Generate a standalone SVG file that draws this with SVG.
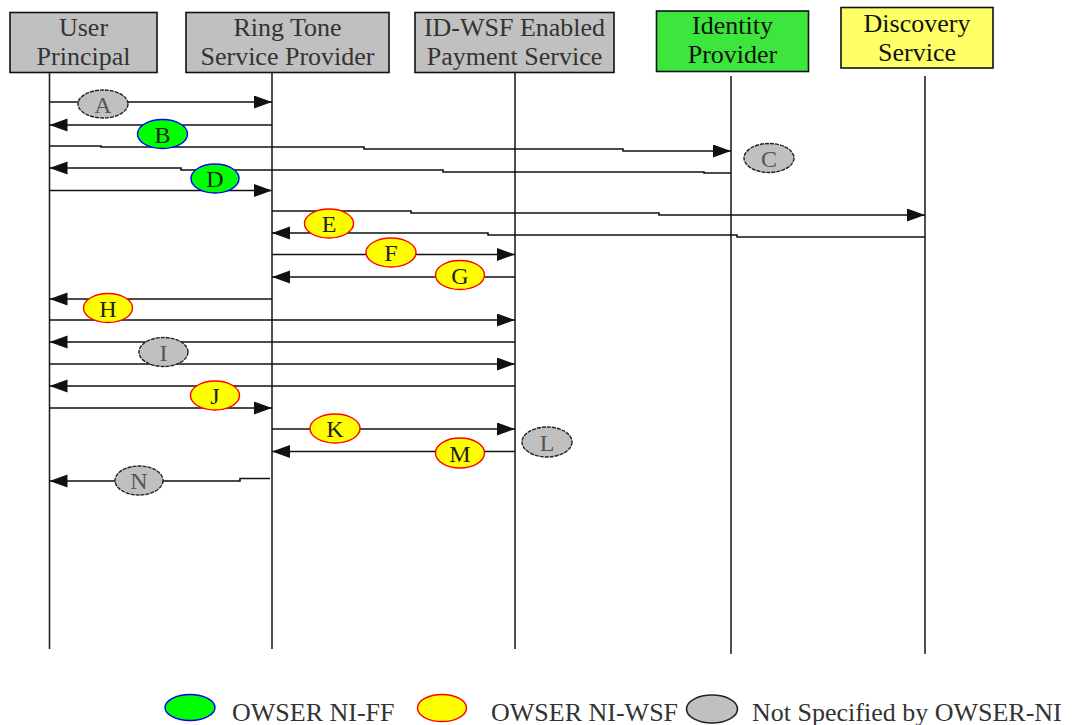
<svg xmlns="http://www.w3.org/2000/svg" width="1073" height="725" viewBox="0 0 1073 725">
<style>
.box{stroke:#111;stroke-width:1.6}
.grey{fill:#c0c0c0}
.hdr{font-family:"Liberation Serif","Times New Roman",serif;font-size:26px;text-anchor:middle;fill:#333}
.hdr2{font-family:"Liberation Serif","Times New Roman",serif;font-size:26px;text-anchor:middle;fill:#111}
.life{stroke:#222;stroke-width:1.6;fill:none}
.msg{stroke:#111;stroke-width:1.6;fill:none;marker-end:url(#ah)}
.ov-g{fill:#00ff00;stroke:#0000ff;stroke-width:1.4}
.ov-y{fill:#ffff00;stroke:#ff0000;stroke-width:1.4}
.ov-n{fill:#c0c0c0;stroke:#222;stroke-width:1.4;stroke-dasharray:4 1}
.lt{font-family:"Liberation Serif","Times New Roman",serif;font-size:24px;text-anchor:middle;fill:#222}
.ltn{font-family:"Liberation Serif","Times New Roman",serif;font-size:24px;text-anchor:middle;fill:#555}
.leg{font-family:"Liberation Serif","Times New Roman",serif;font-size:26px;fill:#333}
</style>
<defs>
<marker id="ah" markerUnits="userSpaceOnUse" markerWidth="19" markerHeight="14" refX="18" refY="6.5" orient="auto">
<path d="M0,0 L18,6.5 L0,13 z" fill="#111"/>
</marker>
</defs>
<rect width="1073" height="725" fill="#fff"/>

<g id="node-user">
<rect class="box grey" x="10" y="12.5" width="147" height="60"/>
<text class="hdr" x="83.5" y="36">User</text>
<text class="hdr" x="83.5" y="65">Principal</text>
<line class="life" x1="49.5" y1="73" x2="49.5" y2="649"/>
</g>
<g id="node-ringtone">
<rect class="box grey" x="186" y="12.5" width="203" height="60"/>
<text class="hdr" x="287.5" y="36">Ring Tone</text>
<text class="hdr" x="287.5" y="65">Service Provider</text>
<line class="life" x1="272" y1="73" x2="272" y2="649"/>
</g>
<g id="node-payment">
<rect class="box grey" x="415" y="12.5" width="199" height="60"/>
<text class="hdr" x="514.5" y="36">ID-WSF Enabled</text>
<text class="hdr" x="514.5" y="65">Payment Service</text>
<line class="life" x1="515" y1="73" x2="515" y2="649"/>
</g>
<g id="node-idp">
<rect class="box" x="656.5" y="11" width="152" height="60.5" fill="#3ce63c"/>
<text class="hdr2" x="732.5" y="34">Identity</text>
<text class="hdr2" x="732.5" y="63">Provider</text>
<line class="life" x1="731" y1="76" x2="731" y2="654"/>
</g>
<g id="node-discovery">
<rect class="box" x="841" y="7.5" width="152" height="60.5" fill="#ffff66"/>
<text class="hdr2" x="917" y="32">Discovery</text>
<text class="hdr2" x="917" y="61">Service</text>
<line class="life" x1="925" y1="76" x2="925" y2="654"/>
</g>

<g id="connectors">
<path class="msg" d="M49.5,102 H272"/>
<path class="msg" d="M272,125 H49.5"/>
<path class="msg" d="M49.5,146 H101 V147 H364 V149 H623 V151 H731"/>
<path class="msg" d="M731,173 H704 V172 H443 V170 H181 V168 H49.5"/>
<path class="msg" d="M49.5,190.5 H272"/>
<path class="msg" d="M272,211 H411 V213 H659 V215 H925"/>
<path class="msg" d="M925,237 H737 V235 H488 V233 H272"/>
<path class="msg" d="M272,254.5 H515"/>
<path class="msg" d="M515,277 H272"/>
<path class="msg" d="M272,299 H49.5"/>
<path class="msg" d="M49.5,320 H515"/>
<path class="msg" d="M515,342 H49.5"/>
<path class="msg" d="M49.5,364 H515"/>
<path class="msg" d="M515,386 H49.5"/>
<path class="msg" d="M49.5,408 H272"/>
<path class="msg" d="M272,429 H515"/>
<path class="msg" d="M515,451.5 H272"/>
<path class="msg" d="M270,478.5 H240 V481 H49.5"/>
</g>

<g id="label-A"><ellipse class="ov-n" cx="103" cy="104" rx="25" ry="14"/><text class="ltn" x="103" y="112.5">A</text></g>
<g id="label-B"><ellipse class="ov-g" cx="162.5" cy="134" rx="25" ry="14.5"/><text class="lt" x="162.5" y="142.5">B</text></g>
<g id="label-C"><ellipse class="ov-n" cx="769" cy="158" rx="25" ry="14.5"/><text class="ltn" x="769" y="166.5">C</text></g>
<g id="label-D"><ellipse class="ov-g" cx="215" cy="178.5" rx="24" ry="14.5"/><text class="lt" x="215" y="187">D</text></g>
<g id="label-E"><ellipse class="ov-y" cx="329" cy="223.5" rx="24.5" ry="14.5"/><text class="lt" x="329" y="232">E</text></g>
<g id="label-F"><ellipse class="ov-y" cx="391" cy="252.5" rx="25" ry="14.5"/><text class="lt" x="391" y="261">F</text></g>
<g id="label-G"><ellipse class="ov-y" cx="460" cy="275" rx="24.5" ry="14.5"/><text class="lt" x="460" y="283.5">G</text></g>
<g id="label-H"><ellipse class="ov-y" cx="108" cy="308" rx="24.5" ry="14.5"/><text class="lt" x="108" y="316.5">H</text></g>
<g id="label-I"><ellipse class="ov-n" cx="163.5" cy="352" rx="24.5" ry="14.5"/><text class="ltn" x="163.5" y="360.5">I</text></g>
<g id="label-J"><ellipse class="ov-y" cx="215" cy="395.5" rx="24.5" ry="14.5"/><text class="lt" x="215" y="404">J</text></g>
<g id="label-K"><ellipse class="ov-y" cx="335" cy="428.5" rx="25" ry="14.5"/><text class="lt" x="335" y="437">K</text></g>
<g id="label-L"><ellipse class="ov-n" cx="547" cy="442" rx="25" ry="15"/><text class="ltn" x="547" y="450.5">L</text></g>
<g id="label-M"><ellipse class="ov-y" cx="460" cy="453" rx="24.5" ry="15"/><text class="lt" x="460" y="461.5">M</text></g>
<g id="label-N"><ellipse class="ov-n" cx="139" cy="480.5" rx="24" ry="14.5"/><text class="ltn" x="139" y="489">N</text></g>

<g id="legend">
<ellipse class="ov-g" cx="190" cy="707.5" rx="25" ry="13"/>
<text class="leg" x="232" y="721">OWSER NI-FF</text>
<ellipse class="ov-y" cx="442" cy="708" rx="24.5" ry="13.5"/>
<text class="leg" x="491" y="721">OWSER NI-WSF</text>
<ellipse cx="712" cy="709" rx="25.5" ry="14" fill="#c0c0c0" stroke="#222" stroke-width="1.6"/>
<text class="leg" x="752" y="721">Not Specified by OWSER-NI</text>
</g>
</svg>
